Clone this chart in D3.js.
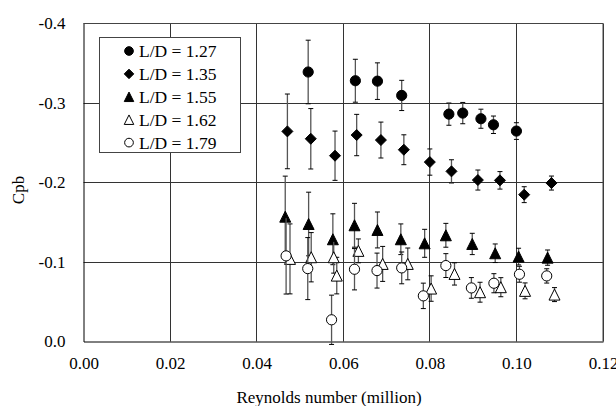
<!DOCTYPE html>
<html>
<head>
<meta charset="utf-8">
<script src="https://cdn.jsdelivr.net/npm/d3@7"></script>
<style>
  body { margin: 0; background: #fff; }
  svg text { fill: #000; }
</style>
</head>
<body>
<svg id="chart"></svg>
<script>
var width = 616, height = 406;
var FONT = "'Liberation Serif', Tinos, 'Times New Roman', Times, 'DejaVu Serif', serif";

// data: Reynolds number (million), Cpb, error (+/-)
var re127  = [0.0519, 0.0628, 0.0679, 0.0735, 0.0844, 0.0876, 0.0918, 0.0947, 0.1000];
var cpb127 = [-0.339, -0.328, -0.3275, -0.3095, -0.286, -0.2873, -0.2802, -0.2726, -0.2647];
var err127 = [0.040, 0.027, 0.023, 0.019, 0.014, 0.0134, 0.012, 0.011, 0.0105];

var re135  = [0.0471, 0.0525, 0.0581, 0.0631, 0.0687, 0.0740, 0.0800, 0.0850, 0.0911, 0.0962, 0.1018, 0.1081];
var cpb135 = [-0.2643, -0.255, -0.2337, -0.2597, -0.2534, -0.2412, -0.2257, -0.214, -0.2031, -0.2027, -0.1847, -0.1993];
var err135 = [0.047, 0.038, 0.031, 0.026, 0.0226, 0.0188, 0.0165, 0.0146, 0.0126, 0.011, 0.010, 0.0088];

var re155  = [0.0466, 0.0520, 0.0576, 0.0626, 0.0679, 0.0733, 0.0788, 0.0837, 0.0898, 0.0951, 0.1005, 0.1072];
var cpb155 = [-0.157, -0.1478, -0.1286, -0.1462, -0.1403, -0.1286, -0.1235, -0.1336, -0.1227, -0.111, -0.1068, -0.1055];
var err155 = [0.051, 0.040, 0.032, 0.0276, 0.0226, 0.0193, 0.0176, 0.015, 0.0134, 0.0117, 0.0105, 0.0096];

var re162  = [0.0477, 0.0526, 0.0578, 0.0585, 0.0635, 0.0691, 0.0749, 0.0803, 0.0857, 0.0916, 0.0964, 0.1020, 0.1088];
var cpb162 = [-0.1039, -0.106, -0.106, -0.0829, -0.114, -0.0976, -0.0976, -0.0666, -0.085, -0.062, -0.0683, -0.0637, -0.059];
var err162 = [0.044, 0.031, 0.020, 0.023, 0.015, 0.022, 0.020, 0.016, 0.014, 0.0125, 0.012, 0.010, 0.0088];

var re179  = [0.0468, 0.0518, 0.0573, 0.0626, 0.0678, 0.0735, 0.0785, 0.0837, 0.0896, 0.0948, 0.1007, 0.1070];
var cpb179 = [-0.1077, -0.0917, -0.0273, -0.0909, -0.0892, -0.0926, -0.0574, -0.0955, -0.0674, -0.0733, -0.0846, -0.0825];
var err179 = [0.048, 0.039, 0.031, 0.026, 0.022, 0.020, 0.016, 0.015, 0.013, 0.012, 0.010, 0.009];

var seriesNames = ["L/D = 1.27", "L/D = 1.35", "L/D = 1.55", "L/D = 1.62", "L/D = 1.79"];
var xTicks = [0, 0.02, 0.04, 0.06, 0.08, 0.10, 0.12];
var xTickLabels = ["0.00", "0.02", "0.04", "0.06", "0.08", "0.10", "0.12"];
var yTicks = [0, -0.1, -0.2, -0.3, -0.4];
var yTickLabels = ["0.0", "-0.1", "-0.2", "-0.3", "-0.4"];

var series = [
  {name: seriesNames[0], shape: "circle", fill: "#000", x: re127, y: cpb127, e: err127},
  {name: seriesNames[1], shape: "diamond", fill: "#000", x: re135, y: cpb135, e: err135},
  {name: seriesNames[2], shape: "triangle", fill: "#000", x: re155, y: cpb155, e: err155},
  {name: seriesNames[3], shape: "triangle", fill: "#fff", x: re162, y: cpb162, e: err162},
  {name: seriesNames[4], shape: "circle", fill: "#fff", x: re179, y: cpb179, e: err179}
];

var margin = {top: 23.5, left: 83.5, right: 13, bottom: 64.5};
var chartWidth = width - margin.left - margin.right;
var chartHeight = height - margin.top - margin.bottom;

var svg = d3.select("#chart").attr("width", width).attr("height", height);

var xScale = d3.scaleLinear().domain([0, 0.12]).range([0, chartWidth]);
var yScale = d3.scaleLinear().domain([0, -0.4]).range([chartHeight, 0]);

var chartLayer = svg.append("g").attr("transform", "translate(" + [margin.left, margin.top] + ")");

// grid
chartLayer.append("g").selectAll("line.vg")
  .data(xTicks.slice(1))
  .enter().append("line")
  .attr("x1", function(d) { return Math.round(xScale(d)); })
  .attr("x2", function(d) { return Math.round(xScale(d)); })
  .attr("y1", 0).attr("y2", chartHeight)
  .attr("stroke", "#333").attr("stroke-width", 1);

chartLayer.append("g").selectAll("line.hg")
  .data(yTicks.slice(1))
  .enter().append("line")
  .attr("y1", function(d) { return Math.round(yScale(d)); })
  .attr("y2", function(d) { return Math.round(yScale(d)); })
  .attr("x1", 0).attr("x2", chartWidth)
  .attr("stroke", "#333").attr("stroke-width", 1);

// axes
var xAxis = d3.axisBottom(xScale).tickValues(xTicks).tickSize(0).tickPadding(15)
  .tickFormat(function(d, i) { return xTickLabels[i]; });
var yAxis = d3.axisLeft(yScale).tickValues(yTicks).tickSize(0).tickPadding(18)
  .tickFormat(function(d, i) { return yTickLabels[i]; });

var gx = chartLayer.append("g").attr("transform", "translate(0," + chartHeight + ")").call(xAxis);
var gy = chartLayer.append("g").call(yAxis);
[gx, gy].forEach(function(g) {
  g.attr("font-family", null).attr("font-size", null);
  g.select(".domain").attr("stroke", "#000");
  g.selectAll("text").style("font-family", FONT).style("font-size", "17px");
});
gx.selectAll("text").attr("dy", "0.71em");

svg.append("text")
  .attr("x", 329).attr("y", 403)
  .attr("text-anchor", "middle")
  .style("font-family", FONT).style("font-size", "17px")
  .text("Reynolds number (million)");

svg.append("text")
  .attr("transform", "translate(24,190) rotate(-90)")
  .attr("text-anchor", "middle")
  .style("font-family", FONT).style("font-size", "17px")
  .text("Cpb");

function markerPath(shape, s) {
  var h = s / 2;
  if (shape === "diamond") return "M0," + (-h) + "L" + h + ",0L0," + h + "L" + (-h) + ",0Z";
  if (shape === "triangle") return "M0," + (-h) + "L" + h + "," + h + "L" + (-h) + "," + h + "Z";
  return null;
}

function drawMarker(g, shape, fill, s) {
  if (shape === "circle") {
    g.append("circle").attr("r", s / 2 - 0.4)
      .attr("fill", fill).attr("stroke", "#000").attr("stroke-width", 1);
  } else {
    g.append("path").attr("d", markerPath(shape, s))
      .attr("fill", fill).attr("stroke", "#000").attr("stroke-width", 1)
      .attr("stroke-linejoin", "miter");
  }
}

// series: error bars then markers
series.forEach(function(s) {
  var pts = s.x.map(function(x, i) { return {x: x, y: s.y[i], e: s.e[i]}; });
  var sg = chartLayer.append("g");
  var eb = sg.selectAll("g.err").data(pts).enter().append("g")
    .attr("transform", function(d) { return "translate(" + xScale(d.x) + ",0)"; });
  eb.append("line")
    .attr("x1", 0).attr("x2", 0)
    .attr("y1", function(d) { return yScale(d.y - d.e); })
    .attr("y2", function(d) { return yScale(d.y + d.e); })
    .attr("stroke", "#555").attr("stroke-width", 1.3);
  [-1, 1].forEach(function(sign) {
    eb.append("line")
      .attr("x1", -2.5).attr("x2", 2.5)
      .attr("y1", function(d) { return yScale(d.y + sign * d.e); })
      .attr("y2", function(d) { return yScale(d.y + sign * d.e); })
      .attr("stroke", "#000").attr("stroke-width", 1);
  });
  sg.selectAll("g.mk").data(pts).enter().append("g")
    .attr("transform", function(d) { return "translate(" + xScale(d.x) + "," + yScale(d.y) + ")"; })
    .each(function() { drawMarker(d3.select(this), s.shape, s.fill, 11); });
});

// frame top & right
chartLayer.append("line").attr("x1", 0).attr("x2", chartWidth).attr("y1", 0).attr("y2", 0)
  .attr("stroke", "#444");
chartLayer.append("line").attr("x1", chartWidth).attr("x2", chartWidth).attr("y1", 0).attr("y2", chartHeight)
  .attr("stroke", "#444");

// legend
var legend = svg.append("g");
legend.append("rect")
  .attr("x", 99.5).attr("y", 37.5).attr("width", 141).attr("height", 115)
  .attr("fill", "#fff").attr("stroke", "#444").attr("stroke-width", 1);
series.forEach(function(s, i) {
  var ly = 51 + i * 22.9;
  var mg = legend.append("g").attr("transform", "translate(129," + ly + ")");
  drawMarker(mg, s.shape, s.fill, 9.5);
  legend.append("text")
    .attr("x", 139).attr("y", ly).attr("dy", "0.35em")
    .style("font-family", FONT).style("font-size", "17.5px")
    .text(s.name);
});
</script>
</body>
</html>
